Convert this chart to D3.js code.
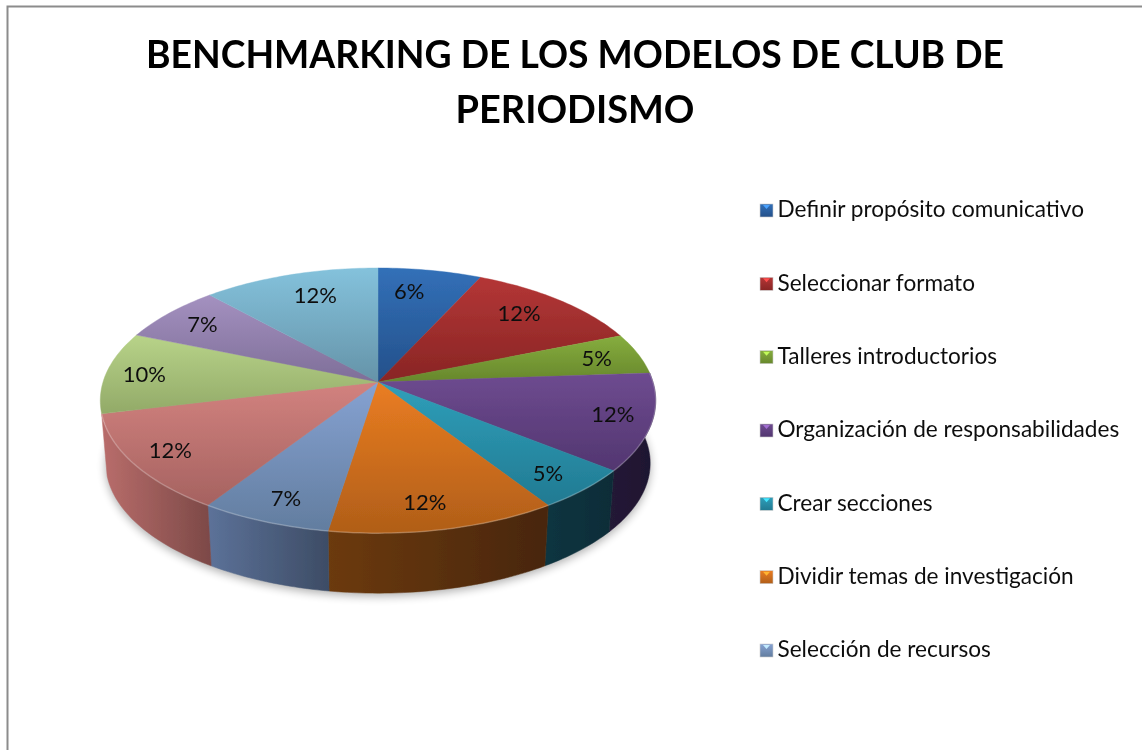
<!DOCTYPE html>
<html><head><meta charset="utf-8">
<script src="https://cdn.jsdelivr.net/npm/d3@7/dist/d3.min.js"></script>
<style>html,body{margin:0;padding:0;background:#fff;overflow:hidden}svg{display:block}</style>
</head><body><svg id="c" width="1142" height="750"></svg>
<script>
const titleLines = ["BENCHMARKING DE LOS MODELOS DE CLUB DE", "PERIODISMO"];
const categories = ["Definir propósito comunicativo","Seleccionar formato","Talleres introductorios","Organización de responsabilidades","Crear secciones","Dividir temas de investigación","Selección de recursos"];
const values = [6.9,12,5,11.8,5.1,11.7,6.7,12,10,7,11.8];
const valueLabels = ["6%","12%","5%","12%","5%","12%","7%","12%","10%","7%","12%"];
const topLight = ["#3270b8","#b43636","#86ad3e","#6e4b90","#2f9fba","#ea7d22","#86a2d2","#d2827f","#b8d389","#a491c0","#84c2dc"];
const topDark  = ["#24508a","#882524","#67872c","#523670","#217a92","#b05e18","#627d9f","#a56260","#92aa68","#7e6e98","#6593a8"];
const wallLeft  = ["#111","#111","#111","#241a36","#103540","#6c3a0e","#5c7299","#b96d6b","#8a9c64","#6a5c80","#111"];
const wallRight = ["#111","#111","#111","#1e1430","#0d2c38","#482609","#3d4c65","#7c4947","#8a9c64","#6a5c80","#111"];

const svg = d3.select("#c");
const defs = svg.append("defs");
const font = "Lato, Carlito, sans-serif";

// projection of the tilted disc
const cx = 378, cy = 382, A = 275, B = 130, q = 0.14, depth = 63, shrink = 0.98;
function proj(theta, r, z) {
  const u = Math.sin(theta) * r, v = -Math.cos(theta) * r, w = 1 - q * v;
  const k = z ? shrink : 1;
  return [cx + A * k * u / w, cy + (z ? depth : 0) + B * k * v / w];
}
const line = d3.line();
const arcs = d3.pie().sort(null).value(d => d)(values);
const sample = (a, b) => { const n = Math.max(2, Math.ceil((b - a) / 0.02)); return d3.range(n + 1).map(i => a + (b - a) * i / n); };

// frame
svg.append("path").attr("d", "M7.5 750V6.5H1142").attr("fill", "none").attr("stroke", "#8c8c8c").attr("stroke-width", 2);

// shadow
const blur = defs.append("filter").attr("id", "sh").attr("x", "-20%").attr("y", "-20%").attr("width", "140%").attr("height", "140%");
blur.append("feGaussianBlur").attr("stdDeviation", 5);
const soft = defs.append("filter").attr("id", "soft").attr("x", "-5%").attr("y", "-5%").attr("width", "110%").attr("height", "110%");
soft.append("feGaussianBlur").attr("stdDeviation", 0.5);
const softText = defs.append("filter").attr("id", "softText").attr("filterUnits", "userSpaceOnUse").attr("x", 0).attr("y", 0).attr("width", 1142).attr("height", 750);
softText.append("feGaussianBlur").attr("stdDeviation", 0.45);

const pie = svg.append("g").attr("filter", "url(#soft)");
pie.append("path")
  .attr("d", line(sample(0, 2 * Math.PI).map(t => { const p = proj(t, 1, 1); return [p[0], p[1] + 3]; })) + "Z")
  .attr("fill", "#000").attr("opacity", 0.32).attr("filter", "url(#sh)");

// side walls (front part only)
const lo = Math.PI * 0.478, hi = Math.PI * 1.424;
arcs.forEach((d, i) => {
  const a = Math.max(d.startAngle, lo), b = Math.min(d.endAngle, hi);
  if (b <= a) return;
  const ts = sample(a, b);
  const pts = ts.map(t => proj(t, 1, 0)).concat(ts.slice().reverse().map(t => proj(t, 1, 1)));
  const g = defs.append("linearGradient").attr("id", "w" + i);
  g.append("stop").attr("offset", 0).attr("stop-color", wallLeft[i]);
  g.append("stop").attr("offset", 1).attr("stop-color", wallRight[i]);
  pie.append("path").attr("d", line(pts) + "Z").attr("fill", `url(#w${i})`).attr("stroke", `url(#w${i})`).attr("stroke-width", 0.5);
});

// top face
arcs.forEach((d, i) => {
  const pts = [proj(0, 0, 0)].concat(sample(d.startAngle, d.endAngle).map(t => proj(t, 1, 0)));
  const g = defs.append("linearGradient").attr("id", "t" + i).attr("x1", 0).attr("y1", 0).attr("x2", 0).attr("y2", 1);
  g.append("stop").attr("offset", 0).attr("stop-color", topLight[i]);
  g.append("stop").attr("offset", 1).attr("stop-color", topDark[i]);
  pie.append("path").attr("d", line(pts) + "Z").attr("fill", `url(#t${i})`).attr("stroke", `url(#t${i})`).attr("stroke-width", 0.4);
});
// rim highlight
arcs.forEach(d => {
  const a = Math.max(d.startAngle, lo), b = Math.min(d.endAngle, hi);
  if (b <= a) return;
  pie.append("path").attr("d", line(sample(a, b).map(t => proj(t, 1, 0))))
    .attr("fill", "none").attr("stroke", "#fff").attr("stroke-opacity", 0.22).attr("stroke-width", 1.5);
});

const texts = svg.append("g").attr("filter", "url(#softText)");

// value labels: placed at the slice centroid, then nudged by hand as the reference does
const labelNudgeX = [-13,-12,2,9,2,-7,0,-8,-8,0,12];
const labelNudgeY = [4,0,0,-1,4,1,3,1,0,0,4];
arcs.forEach((d, i) => {
  const p = proj((d.startAngle + d.endAngle) / 2, 0.83, 0);
  texts.append("text").attr("x", p[0] + labelNudgeX[i]).attr("y", p[1] + labelNudgeY[i]).attr("dy", "0.35em").attr("text-anchor", "middle")
    .attr("font-family", font).attr("font-size", 22).attr("fill", "#111").text(valueLabels[i]);
});

// title
const titleWidths = [858, 239];
titleLines.forEach((t, i) => {
  texts.append("text").attr("x", 575).attr("y", 68 + i * 55).attr("text-anchor", "middle")
    .attr("textLength", titleWidths[i]).attr("lengthAdjust", "spacingAndGlyphs")
    .attr("font-family", font).attr("font-weight", 700).attr("font-size", 38.5).attr("fill", "#000").text(t);
});

// legend
const ly = d3.scalePoint().domain(categories).range([210, 650]);
categories.forEach((c, i) => {
  const y = ly(c);
  const g = defs.append("linearGradient").attr("id", "l" + i).attr("x1", 0).attr("y1", 0).attr("x2", 0).attr("y2", 1);
  g.append("stop").attr("offset", 0).attr("stop-color", topLight[i]);
  g.append("stop").attr("offset", 1).attr("stop-color", topDark[i]);
  svg.append("rect").attr("x", 760).attr("y", y - 6).attr("width", 13).attr("height", 13).attr("fill", `url(#l${i})`).attr("stroke", "#ccc").attr("stroke-width", 0.6);
  svg.append("path").attr("d", `M763 ${y - 5}H770L766.5 ${y - 1}Z`).attr("fill", topLight[i]).attr("style", "filter:brightness(1.45)");
  texts.append("text").attr("x", 777.5).attr("y", y - 0.5).attr("dy", "0.35em").attr("font-family", font).attr("font-size", 22.6).attr("fill", "#111").text(c);
});
</script></body></html>
